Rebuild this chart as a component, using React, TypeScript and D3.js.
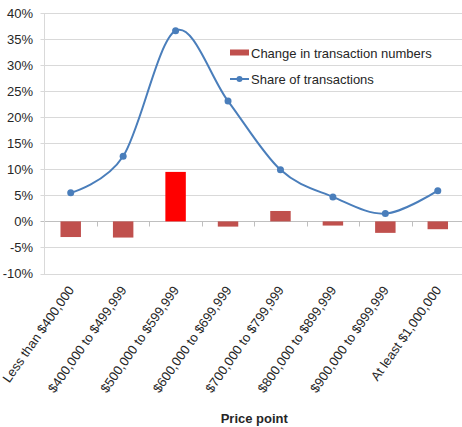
import React, { useEffect, useRef } from 'react';
import * as d3 from 'd3';

const categories = [
  'Less than $400,000',
  '$400,000 to $499,999',
  '$500,000 to $599,999',
  '$600,000 to $699,999',
  '$700,000 to $799,999',
  '$800,000 to $899,999',
  '$900,000 to $999,999',
  'At least $1,000,000',
];
const changeInNumbers = [-3.0, -3.1, 9.5, -1.0, 2.0, -0.8, -2.2, -1.5];
const shareOfTransactions = [5.5, 12.5, 36.6, 23.1, 9.9, 4.7, 1.5, 5.9];
const yTicks = [-10, -5, 0, 5, 10, 15, 20, 25, 30, 35, 40];
const highlighted = '$500,000 to $599,999';

const FONT = 'Arial, "Liberation Sans", sans-serif';

export default function App() {
  const ref = useRef<SVGSVGElement>(null);

  useEffect(() => {
    const width = 462;
    const height = 427;
    const left = 44.5;
    const right = 464;
    const top = 13;
    const bottom = 273.5;

    const svg = d3.select(ref.current);
    svg.selectAll('*').remove();
    svg.attr('width', width).attr('height', height);

    const x = d3.scaleBand().domain(categories).range([left, right]).padding(0);
    const y = d3.scaleLinear().domain([-10, 40]).range([bottom, top]);

    // gridlines + y labels
    const grid = svg.append('g');
    grid
      .selectAll('line')
      .data(yTicks)
      .enter()
      .append('line')
      .attr('x1', left - 4)
      .attr('x2', right)
      .attr('y1', d => Math.round(y(d)) + 0.5)
      .attr('y2', d => Math.round(y(d)) + 0.5)
      .attr('stroke', d => (d === 0 ? '#bfbfbf' : '#d9d9d9'))
      .attr('stroke-width', 1);

    grid
      .selectAll('text')
      .data(yTicks)
      .enter()
      .append('text')
      .attr('x', 33)
      .attr('y', d => y(d))
      .attr('dy', '0.35em')
      .attr('text-anchor', 'end')
      .attr('font-family', FONT)
      .attr('font-size', 13)
      .attr('fill', '#262626')
      .text(d => `${d}%`);

    // y axis line
    svg
      .append('line')
      .attr('x1', left)
      .attr('x2', left)
      .attr('y1', top)
      .attr('y2', bottom + 0.5)
      .attr('stroke', '#d9d9d9');

    // category ticks on the 0% line
    const y0 = Math.round(y(0)) + 0.5;
    svg
      .append('g')
      .selectAll('line')
      .data(categories.slice(1))
      .enter()
      .append('line')
      .attr('x1', d => Math.round(x(d)!) + 0.5)
      .attr('x2', d => Math.round(x(d)!) + 0.5)
      .attr('y1', y0)
      .attr('y2', y0 + 5)
      .attr('stroke', '#bfbfbf');

    // bars
    const barW = x.bandwidth() * 0.39;
    svg
      .append('g')
      .selectAll('rect')
      .data(changeInNumbers)
      .enter()
      .append('rect')
      .attr('x', (d, i) => x(categories[i])! + (x.bandwidth() - barW) / 2)
      .attr('y', d => y(Math.max(0, d)))
      .attr('width', barW)
      .attr('height', d => Math.abs(y(d) - y(0)))
      .attr('fill', (d, i) => (categories[i] === highlighted ? '#ff0000' : '#c0504d'));

    // share line
    const cx = (i: number) => x(categories[i])! + x.bandwidth() / 2;
    const line = d3
      .line<number>()
      .x((d, i) => cx(i))
      .y(d => y(d))
      .curve(d3.curveCardinal.tension(0));

    svg
      .append('path')
      .datum(shareOfTransactions)
      .attr('d', line)
      .attr('fill', 'none')
      .attr('stroke', '#4a7ebb')
      .attr('stroke-width', 2);

    svg
      .append('g')
      .selectAll('circle')
      .data(shareOfTransactions)
      .enter()
      .append('circle')
      .attr('cx', (d, i) => cx(i))
      .attr('cy', d => y(d))
      .attr('r', 3.5)
      .attr('fill', '#4a7ebb');

    // x labels
    svg
      .append('g')
      .selectAll('text')
      .data(categories)
      .enter()
      .append('text')
      .attr('transform', d => `translate(${x(d)! + x.bandwidth() / 2 + 4},290) rotate(-55)`)
      .attr('text-anchor', 'end')
      .attr('font-family', FONT)
      .attr('font-size', 13)
      .attr('fill', '#262626')
      .text(d => d);

    svg
      .append('text')
      .attr('x', (left + right) / 2)
      .attr('y', 423)
      .attr('text-anchor', 'middle')
      .attr('font-family', FONT)
      .attr('font-size', 13)
      .attr('font-weight', 'bold')
      .attr('fill', '#262626')
      .text('Price point');

    // legend
    const legend = svg.append('g').attr('transform', 'translate(230,0)');
    legend.append('rect').attr('x', 0).attr('y', 49.5).attr('width', 19).attr('height', 6).attr('fill', '#c0504d');
    legend
      .append('text')
      .attr('x', 21)
      .attr('y', 53)
      .attr('dy', '0.35em')
      .attr('font-family', FONT)
      .attr('font-size', 13)
      .attr('fill', '#262626')
      .text('Change in transaction numbers');
    legend
      .append('line')
      .attr('x1', 0)
      .attr('x2', 19)
      .attr('y1', 79)
      .attr('y2', 79)
      .attr('stroke', '#4a7ebb')
      .attr('stroke-width', 2);
    legend.append('circle').attr('cx', 9.5).attr('cy', 79).attr('r', 3).attr('fill', '#4a7ebb');
    legend
      .append('text')
      .attr('x', 21)
      .attr('y', 79)
      .attr('dy', '0.35em')
      .attr('font-family', FONT)
      .attr('font-size', 13)
      .attr('fill', '#262626')
      .text('Share of transactions');
  }, []);

  return (
    <>
      <style>{'body{margin:0}'}</style>
      <svg ref={ref} style={{ display: 'block' }} />
    </>
  );
}
